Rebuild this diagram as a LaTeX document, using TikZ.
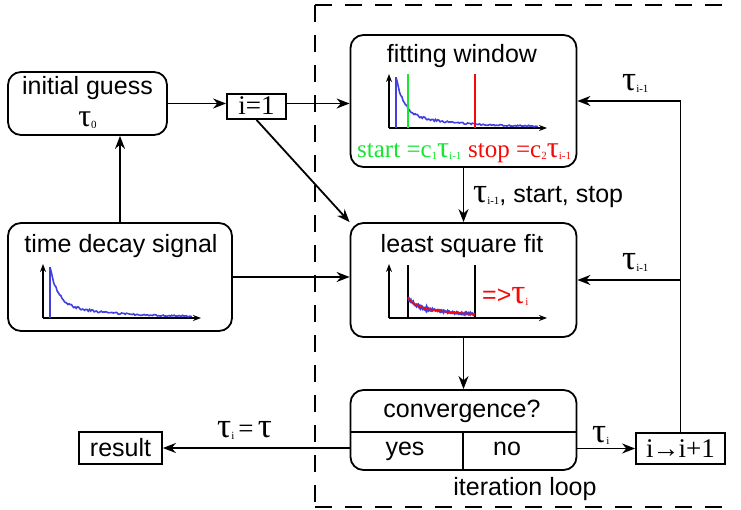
\documentclass[tikz,border=0pt]{standalone}
\usepackage{fontspec}
\setmainfont{Liberation Sans}
\newfontfamily\serf{Liberation Serif}
\usetikzlibrary{arrows.meta}
\definecolor{cblue}{RGB}{64,64,224}
\definecolor{cgreen}{RGB}{20,230,50}
\definecolor{cred}{RGB}{245,10,10}
\newcommand\sub[1]{\raisebox{-2pt}{\serf\fontsize{11}{11}\selectfont #1}}
\newcommand\tauu{{\serf\fontsize{35}{35}\selectfont τ}}
\newcommand\taus{{\serf\fontsize{30}{30}\selectfont τ}}
\newcommand\noisycurve[3]{\pgfmathsetseed{7}\draw[#3] plot[domain=#1:#2,samples=120] (\x,{317-36*exp(-(\x-50)/8)-14*exp(-(\x-50)/50)+1.6*rand*(0.4+0.6*exp(-(\x-50)/40))});}
\newcommand\smoothcurve[3]{\draw[#3] plot[domain=#1:#2,samples=60] (\x,{317-36*exp(-(\x-50)/8)-14*exp(-(\x-50)/50)});}
\begin{document}
\begin{tikzpicture}[x=1pt,y=-1pt,font=\fontsize{25}{30}\selectfont,
 box/.style={draw,line width=1.8pt,rounded corners=13pt,inner sep=0pt},
 sq/.style={draw,line width=1.8pt,inner sep=0pt},
 arr/.style={line width=1.8pt,-{Stealth[length=13pt,width=10pt]}},
 txt/.style={inner sep=0pt,anchor=base},
 axisline/.style={line width=1.5pt,-{Stealth[length=8pt,width=6pt]}},
 dashline/.style={line width=1.8pt,dash pattern=on 17pt off 13pt}]
\useasboundingbox (0,0) rectangle (741,510);
% dashed iteration region
\draw[dashline] (315,5) -- (733,5);
\draw[dashline] (315,5) -- (315,507);
\draw[dashline] (315,507) -- (733,507);

% boxes
\node[box,minimum width=159pt,minimum height=63pt] (ig) at (87.5,103.5) {};
\node[sq,minimum width=59pt,minimum height=25pt] (i1) at (256.5,106.5) {};
\node[box,minimum width=224pt,minimum height=108pt] (tds) at (120,277) {};
\node[box,minimum width=226pt,minimum height=132pt] (fw) at (463.5,101) {};
\node[box,minimum width=226pt,minimum height=114pt] (lsf) at (463.5,280) {};
\node[box,minimum width=226pt,minimum height=80pt] (conv) at (463.5,430) {};
\node[sq,minimum width=83pt,minimum height=32pt] (res) at (120.5,448) {};
\node[sq,minimum width=89pt,minimum height=31pt] (inc) at (680.5,448.5) {};
\coordinate (dv) at (463,432);
\draw[line width=1.8pt] (conv.west |- dv) -- (conv.east |- dv);
\draw[line width=1.8pt] (dv) -- (dv |- conv.south);

% texts
\node[txt] (tig) at (87.5,95) {initial guess};
\node[txt] (tt0) at (87.5,127) {{\serf\fontsize{32}{32}\selectfont τ}\sub{0}};
\node[txt] (ti1) at (256.5,115) {\serf\fontsize{27}{27}\selectfont i=1};
\node[txt] (ttds) at (121,253) {time decay signal};
\node[txt] (tfw) at (462,63) {fitting window};
\node[txt] (tlsf) at (462,253) {least square fit};
\node[txt] (tconv) at (462,417) {convergence?};
\node[txt] (tyes) at (405,455) {yes};
\node[txt] (tno) at (507,455) {no};
\node[txt] (titer) at (525,495) {iteration loop};
\node[txt] (tres) at (120.5,456.5) {result};
\node[txt] (tinc) at (680.5,457) {\serf\fontsize{27}{27}\selectfont i\kern-1pt→\kern-1pt i+1};
\node[txt,anchor=base west,text=cgreen] (tstart) at (357,158) {\serf start =c\sub{1}\taus\sub{i-1}};
\node[txt,anchor=base west,text=cred] (tstop) at (468,158) {\serf stop =c\sub{2}\taus\sub{i-1}};
\node[txt,anchor=base west,text=cred] (tres2) at (482,304) {=>\tauu\sub{i}};

% plot in time decay signal
\draw[axisline] (43,318) -- (43,264);
\draw[axisline] (43,318) -- (201,318);
\draw[cblue,line width=1.6pt] (50,318) -- (50,267);
\noisycurve{50}{192}{cblue,line width=1.6pt}

% plot in fitting window
\begin{scope}[shift={(346,-190)}]
\draw[axisline] (43,318) -- (43,264);
\draw[axisline] (43,318) -- (201,318);
\draw[cblue,line width=1.6pt] (50,318) -- (50,267);
\noisycurve{50}{192}{cblue,line width=1.6pt}
\draw[cgreen,line width=1.8pt] (62,318) -- (62,264);
\draw[cred,line width=1.8pt] (129,318) -- (129,264);
\end{scope}

% plot in least square fit
\begin{scope}[shift={(346,0)}]
\draw[axisline] (43,318) -- (43,264);
\draw[axisline] (43,318) -- (201,318);
\draw[line width=1.5pt] (62,318) -- (62,265);
\draw[line width=1.5pt] (129,318) -- (129,265);
\noisycurve{62}{129}{cblue,line width=2.4pt}
\smoothcurve{62}{129}{cred,line width=1.6pt}
\end{scope}

% connectors
\draw[arr] (ig.east) -- (ig.east -| i1.west);
\draw[arr] (i1.east |- ig.east) -- (ig.east -| fw.west);
\draw[arr] (i1.south) -- (lsf.north west);
\draw[arr] (tds.north) -- (tds.north |- ig.south);
\draw[arr] (tds.east) -- (tds.east -| lsf.west);
\draw[arr] (fw.south) -- (lsf.north);
\draw[arr] (lsf.south) -- (conv.north);
\draw[arr] (res.east -| conv.west) -- (res.east);
\draw[arr] (inc.west -| conv.east) -- (inc.west);
\draw[arr] (inc.north) |- (fw.east);
\draw[arr] (inc.north |- lsf.east) -- (lsf.east);

% connector labels
\node[txt,anchor=base west] (lfl) at (473,203) {\tauu\sub{i-1}, start, stop};
\node[txt,anchor=base west] (ltop) at (622,91) {\tauu\sub{i-1}};
\node[txt,anchor=base west] (lmid) at (622,270) {\tauu\sub{i-1}};
\node[txt,anchor=base west] (lti) at (592,442) {\tauu\sub{i}};
\node[txt,anchor=base west] (lconv) at (217,437) {\tauu\sub{i}\,{\serf\fontsize{27}{27}\selectfont =}\,\tauu};
\end{tikzpicture}
\end{document}
